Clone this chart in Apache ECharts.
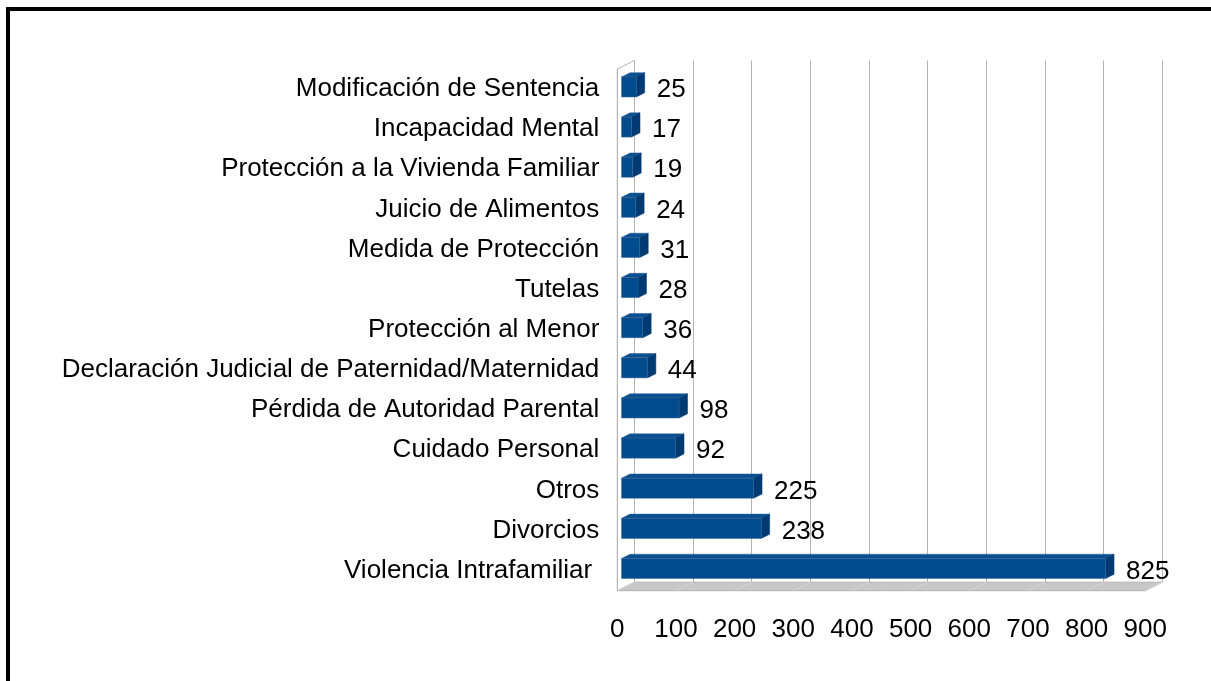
<!DOCTYPE html>
<html>
<head>
<meta charset="utf-8">
<style>
	html, body { margin: 0; padding: 0; background: #fff; }
	#chart { width: 1211px; height: 681px; }
</style>
<script src="https://cdn.jsdelivr.net/npm/echarts@6/dist/echarts.min.js"></script>
</head>
<body>
<div id="chart"></div>
<script>
	// categorias de arriba hacia abajo
	const categories = [
		'Modificación de Sentencia',
		'Incapacidad Mental',
		'Protección a la Vivienda Familiar',
		'Juicio de Alimentos',
		'Medida de Protección',
		'Tutelas',
		'Protección al Menor',
		'Declaración Judicial de Paternidad/Maternidad',
		'Pérdida de Autoridad Parental',
		'Cuidado Personal',
		'Otros',
		'Divorcios',
		'Violencia Intrafamiliar '
	];
	const values = [25, 17, 19, 24, 31, 28, 36, 44, 98, 92, 225, 238, 825];
	const xMin = 0;
	const xMax = 900;
	const xStep = 100;

	// plano frontal y offset de profundidad (falso 3D)
	const FRONT = { left: 617.3, top: 69, width: 528, height: 521.7 };
	const DX = 17, DY = -8.5;
	const fontFamily = '"Liberation Sans", Arial, sans-serif';
	const fontSize = 26;

	let myChart = echarts.init(document.getElementById('chart'));

	function renderBar(params, api) {
		let v = api.value(0);
		let c = api.value(1);
		let p0 = api.coord([0, c]);
		let p1 = api.coord([v, c]);
		let h = api.size([0, 1])[1] * 0.5;
		let fx0 = p0[0] + DX / 4, fx1 = p1[0] + DX / 4;
		let fy = p0[1] + DY / 4;
		let top = fy - h / 2, bottom = fy + h / 2;
		let dx = DX / 2, dy = DY / 2;
		return {
			type: 'group',
			children: [{
				type: 'polygon',
				shape: { points: [[fx0, top], [fx1, top], [fx1 + dx, top + dy], [fx0 + dx, top + dy]] },
				style: { fill: '#0a4f90', stroke: '#2a5f96', lineWidth: 0.5 }
			}, {
				type: 'polygon',
				shape: { points: [[fx1, top], [fx1 + dx, top + dy], [fx1 + dx, bottom + dy], [fx1, bottom]] },
				style: { fill: '#003a72', stroke: '#003a72', lineWidth: 0.5 }
			}, {
				type: 'rect',
				shape: { x: fx0, y: top, width: fx1 - fx0, height: h },
				style: { fill: '#004a8e', stroke: '#3c6a9c', lineWidth: 0.5 }
			}, {
				type: 'text',
				x: fx1 + dx + 12,
				y: p0[1] + 1,
				style: {
					text: String(v),
					fill: '#000',
					font: fontSize + 'px ' + fontFamily,
					align: 'left',
					verticalAlign: 'middle'
				}
			}]
		};
	}

	// suelo y pared izquierda
	let fb = FRONT.top + FRONT.height;
	let fr = FRONT.left + FRONT.width;
	let floorLines = [];
	for (let t = xMin; t <= xMax; t += xStep) {
		let x = FRONT.left + (t - xMin) / (xMax - xMin) * FRONT.width;
		floorLines.push({
			type: 'line',
			z: 1,
			shape: { x1: x, y1: fb, x2: x + DX, y2: fb + DY },
			style: { stroke: '#d6d6d6', lineWidth: 1 }
		});
	}

	let option = {
		animation: false,
		textStyle: { fontFamily: fontFamily },
		grid: [{
			left: FRONT.left,
			top: FRONT.top,
			width: FRONT.width,
			height: FRONT.height
		}, {
			left: FRONT.left + DX,
			top: FRONT.top + DY,
			width: FRONT.width,
			height: FRONT.height
		}],
		xAxis: [{
			type: 'value',
			gridIndex: 0,
			min: xMin,
			max: xMax,
			interval: xStep,
			axisLine: { show: false },
			axisTick: { show: false },
			splitLine: { show: false },
			axisLabel: { color: '#000', fontSize: fontSize, margin: 26, fontFamily: fontFamily }
		}, {
			type: 'value',
			gridIndex: 1,
			min: xMin,
			max: xMax,
			interval: xStep,
			axisLine: { show: false },
			axisTick: { show: false },
			axisLabel: { show: false },
			splitLine: { show: true, lineStyle: { color: '#b3b3b3', width: 1 } }
		}],
		yAxis: [{
			type: 'category',
			gridIndex: 0,
			data: categories,
			inverse: true,
			axisLine: { show: true, lineStyle: { color: '#b3b3b3', width: 1 } },
			axisTick: { show: false },
			axisLabel: { color: '#000', fontSize: fontSize, margin: 18, fontFamily: fontFamily }
		}, {
			type: 'category',
			gridIndex: 1,
			data: categories,
			inverse: true,
			show: false
		}],
		graphic: [{
			type: 'polygon',
			z: 1,
			shape: { points: [[FRONT.left, fb], [fr, fb], [fr + DX, fb + DY], [FRONT.left + DX, fb + DY]] },
			style: { fill: '#c8c8c8', stroke: '#b3b3b3', lineWidth: 1 }
		}].concat(floorLines).concat([{
			type: 'polyline',
			z: 1,
			shape: { points: [[FRONT.left, fb], [FRONT.left, FRONT.top], [FRONT.left + DX, FRONT.top + DY]] },
			style: { stroke: '#b3b3b3', lineWidth: 1, fill: null }
		}, {
			// marco negro
			type: 'polyline',
			z: 10,
			shape: { points: [[8, 690], [8, 9], [1220, 9]] },
			style: { stroke: '#000', lineWidth: 4, fill: null }
		}]),
		series: [{
			type: 'custom',
			xAxisIndex: 0,
			yAxisIndex: 0,
			z: 5,
			renderItem: renderBar,
			encode: { x: 0, y: 1 },
			data: values.map((v, i) => [v, i])
		}]
	};
	myChart.setOption(option);
</script>
</body>
</html>
